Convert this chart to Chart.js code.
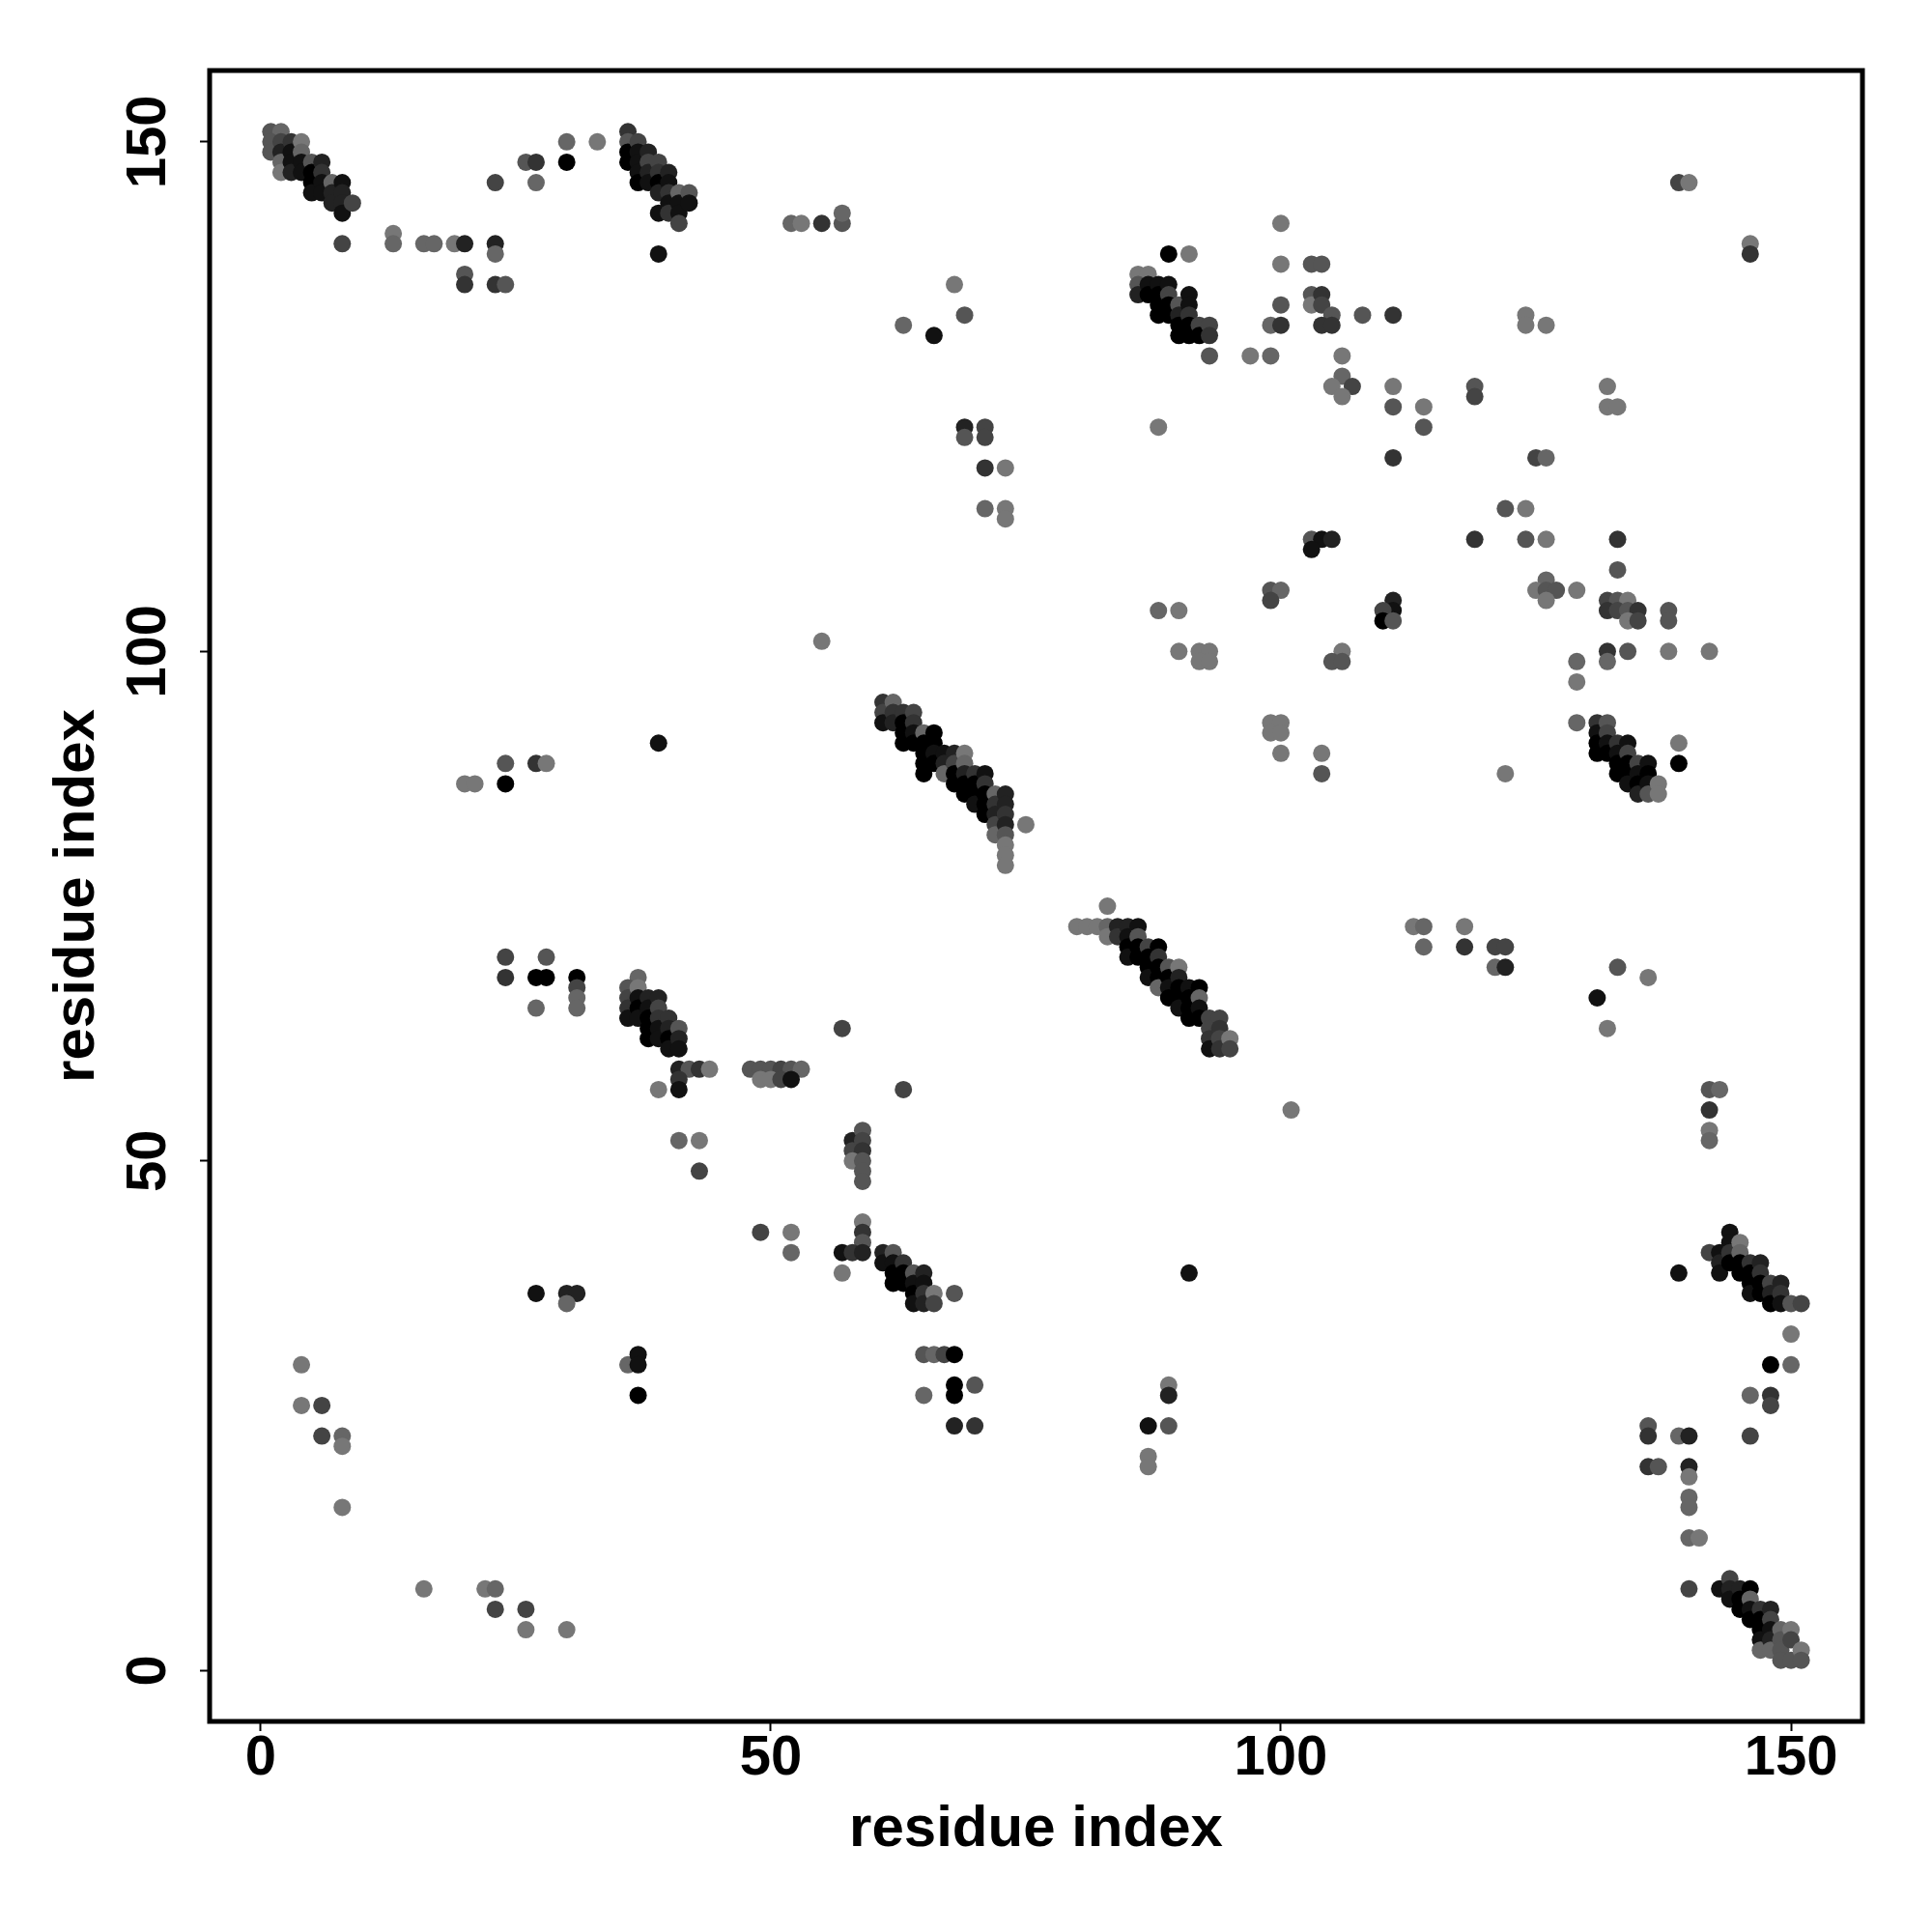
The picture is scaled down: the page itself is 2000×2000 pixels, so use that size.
<!DOCTYPE html>
<html>
<head>
<meta charset="utf-8">
<script src="https://cdn.jsdelivr.net/npm/chart.js@4/dist/chart.umd.min.js"></script>
<style>
  html, body { margin: 0; padding: 0; background: #fff; }
  #wrap { width: 2000px; height: 2000px; }
</style>
</head>
<body>
<div id="wrap"><canvas id="contactMap"></canvas></div>
<script>
// contacts as [residue i, residue j, tone]; tone 0 = black ... 7 = mid grey
const topLeft = [[1,151,5],[2,151,6],[1,150,5],[1,149,5],[2,150,4],[2,149,2],[2,148,6],[2,147,7],[3,150,3],[3,149,1],[3,148,1],[3,147,2],[4,150,7],[4,149,6],[4,148,1],[4,147,1],[5,148,5],[5,147,0],[5,146,0],[5,145,1],[6,148,2],[6,147,3],[6,146,1],[6,145,1],[7,146,6],[7,145,2],[7,144,2],[8,146,1],[8,145,2],[8,144,2],[8,143,1],[9,144,4]];
const topScatter = [[8,140,4],[13,141,7],[13,140,6],[16,140,6],[17,140,6],[19,140,7],[20,140,2],[23,140,2],[23,139,6],[20,137,5],[20,136,3],[23,136,3],[24,136,5],[23,146,4],[26,148,5],[27,148,3],[27,146,6],[30,150,6],[30,148,0],[33,150,7]];
const topStrand = [[36,151,3],[36,150,5],[36,149,0],[36,148,0],[37,150,4],[37,149,1],[37,148,1],[37,147,1],[37,146,0],[38,149,2],[38,148,4],[38,147,2],[38,146,1],[39,148,4],[39,147,3],[39,146,0],[39,145,2],[39,143,1],[40,147,2],[40,146,1],[40,145,3],[40,144,1],[40,143,3],[41,145,6],[41,144,1],[41,143,1],[41,142,4],[42,145,5],[42,144,1],[39,139,1]];
const topMid = [[52,142,6],[53,142,7],[55,142,3],[57,142,5],[57,143,6],[68,136,7],[69,133,5],[63,132,6],[66,131,1],[69,122,2],[71,122,4],[69,121,5],[71,121,4],[71,118,3],[73,118,7],[88,122,7],[89,139,0],[91,139,7],[93,129,5],[97,129,7],[99,129,6],[100,142,7],[100,138,7],[100,134,5],[99,132,6],[100,132,3],[103,138,5],[104,138,5],[103,135,5],[103,134,7],[104,135,3],[104,134,4],[105,133,5],[104,132,3],[105,132,3]];
const helix86 = [[86,137,7],[87,137,7],[86,136,5],[86,135,2],[87,136,1],[87,135,0],[88,136,1],[88,135,0],[88,134,0],[88,133,0],[89,136,1],[89,135,4],[89,134,0],[89,133,0],[90,134,5],[90,133,2],[90,132,0],[90,131,0],[91,135,1],[91,134,1],[91,133,3],[91,132,0],[91,131,0],[92,132,4],[92,131,0],[93,132,4],[93,131,3]];
const topRight = [[108,133,5],[111,133,3],[106,129,7],[106,127,6],[105,126,7],[107,126,4],[106,125,7],[111,126,7],[111,124,5],[114,124,7],[114,122,5],[119,126,5],[119,125,4],[124,133,7],[124,132,7],[126,132,7],[111,119,3],[125,119,4],[126,119,6],[132,126,7],[132,124,7],[133,124,7],[139,146,4],[140,146,7],[146,140,7],[146,139,3]];
const midLeft = [[20,87,7],[21,87,7],[24,89,5],[24,87,0],[27,89,3],[28,89,7],[39,91,1]];
const midCentre = [[71,114,6],[73,114,7],[73,113,7],[55,101,7],[88,104,6],[90,104,7],[90,100,7],[92,100,7],[93,100,7],[92,99,7],[93,99,7],[99,106,5],[100,106,6],[99,105,4],[99,93,7],[100,93,7],[99,92,7],[100,92,7],[100,90,7],[103,111,5],[104,111,1],[105,111,2],[103,110,1],[104,90,7],[104,88,5],[83,75,7],[75,83,7]];
const helix61 = [[61,95,3],[61,94,4],[61,93,1],[62,95,6],[62,94,3],[62,93,2],[63,94,3],[63,93,0],[63,92,0],[63,91,0],[64,94,4],[64,93,3],[64,92,1],[64,91,0],[65,92,6],[65,91,0],[65,90,0],[65,89,0],[65,88,0],[66,92,0],[66,91,0],[66,90,1],[66,89,0],[67,90,1],[67,89,2],[67,88,6],[68,90,2],[68,89,4],[68,88,0],[68,87,0],[69,90,7],[69,89,6],[69,88,2],[69,87,0],[69,86,0],[70,88,3],[70,87,0],[70,86,0],[70,85,1],[71,88,1],[71,87,3],[71,86,0],[71,85,0],[71,84,0],[72,86,6],[72,85,3],[72,84,2],[72,83,4],[72,82,6],[73,86,2],[73,85,2],[73,84,3],[73,83,2],[73,82,5],[73,81,7],[73,80,7],[73,79,7]];
const midRight = [[122,114,5],[124,114,7],[119,111,3],[124,111,5],[126,111,7],[133,111,3],[133,108,5],[126,107,6],[125,106,7],[126,106,5],[127,106,5],[126,105,7],[129,106,7],[132,105,4],[133,105,5],[134,105,7],[132,104,3],[133,104,4],[134,104,5],[135,104,3],[134,103,7],[135,103,4],[138,104,5],[138,103,5],[111,105,2],[111,104,1],[110,104,4],[110,103,0],[111,103,5],[106,100,7],[105,99,5],[106,99,5],[132,100,3],[132,99,6],[134,100,5],[138,100,7],[142,100,7],[129,99,6],[129,97,7],[129,93,6],[139,91,7],[139,89,0],[122,88,7]];
const helix131 = [[131,93,3],[131,92,1],[131,91,0],[131,90,0],[132,93,5],[132,92,4],[132,91,1],[132,90,0],[133,91,3],[133,90,1],[133,89,0],[133,88,0],[134,91,1],[134,90,4],[134,89,0],[134,88,0],[134,87,1],[135,89,4],[135,88,1],[135,87,0],[135,86,2],[136,89,1],[136,88,0],[136,87,1],[136,86,5],[137,87,7],[137,86,7]];
const lowLeft = [[24,70,4],[24,68,3],[27,68,0],[28,68,0],[28,70,5],[27,65,6],[31,68,0],[31,67,4],[31,66,6],[31,65,6],[37,68,6],[36,67,5],[36,66,4],[36,65,3],[36,64,1],[37,67,7],[37,66,1],[37,65,0],[37,64,1],[38,66,2],[38,65,1],[38,64,0],[38,63,0],[38,62,0],[39,66,2],[39,65,4],[39,64,3],[39,63,1],[39,62,1],[40,64,3],[40,63,2],[40,62,0],[40,61,1],[41,63,5],[41,62,2],[41,61,1],[41,59,2],[42,59,5],[43,59,3],[44,59,7],[41,58,3],[41,57,1],[39,57,7],[48,59,5],[49,59,5],[50,59,5],[51,59,4],[52,59,5],[53,59,6],[49,58,7],[50,58,7],[51,58,4],[52,58,1],[41,52,6],[43,52,7],[43,49,4],[49,43,4],[27,37,1],[30,37,2],[31,37,2],[30,36,6]];
const helix80 = [[80,73,7],[81,73,7],[82,73,7],[83,73,6],[83,72,7],[84,73,2],[84,72,3],[85,73,2],[85,72,1],[85,71,0],[85,70,1],[86,73,1],[86,72,5],[86,71,0],[86,70,0],[87,71,4],[87,70,0],[87,69,0],[87,68,1],[88,71,0],[88,70,3],[88,69,0],[88,68,0],[88,67,6],[89,69,5],[89,68,0],[89,67,1],[89,66,0],[90,69,7],[90,68,2],[90,67,0],[90,66,0],[90,65,1],[91,67,1],[91,66,0],[91,65,0],[91,64,0],[92,67,0],[92,66,6],[92,65,1],[92,64,0],[93,64,4],[93,63,4],[93,62,3],[93,61,1],[94,64,4],[94,63,3],[94,62,4],[94,61,3],[95,62,7],[95,61,4]];
const lowMid = [[57,63,4],[63,57,4],[58,52,2],[59,53,5],[58,51,4],[59,52,4],[59,51,3],[58,50,7],[59,50,5],[59,49,5],[59,48,5],[52,43,7],[52,41,6],[57,39,7],[59,44,7],[59,43,3],[59,42,5],[57,41,1],[58,41,3],[59,41,2],[68,37,5],[91,39,1],[101,55,7]];
const strand61 = [[61,41,2],[61,40,1],[62,41,5],[62,40,1],[62,39,0],[62,38,0],[63,40,3],[63,39,0],[63,38,0],[64,39,5],[64,38,1],[64,37,0],[64,36,1],[65,39,2],[65,38,1],[65,37,3],[65,36,2],[66,37,7],[66,36,4]];
const lowRight = [[113,73,7],[114,73,6],[118,73,7],[114,71,6],[118,71,3],[121,71,4],[122,71,4],[121,69,6],[122,69,2],[133,69,5],[136,68,7],[131,66,1],[132,63,7],[142,57,5],[143,57,6],[142,55,3],[142,53,7],[142,52,6],[139,39,1]];
const strand142 = [[142,41,4],[143,41,1],[143,40,2],[143,39,1],[144,43,1],[144,42,1],[144,41,3],[144,40,0],[145,42,7],[145,41,6],[145,40,0],[145,39,0],[146,40,3],[146,39,0],[146,38,0],[146,37,1],[147,40,2],[147,39,3],[147,38,0],[147,37,0],[148,38,4],[148,37,2],[148,36,0],[149,38,2],[149,37,3],[149,36,1],[150,36,5],[151,36,4]];
const bottomLeft = [[4,30,7],[4,26,7],[6,26,4],[6,23,4],[8,23,6],[8,22,7],[8,16,7],[16,8,7],[22,8,7],[23,8,6],[23,6,4],[26,6,4],[26,4,7],[30,4,7],[36,30,6],[37,31,1],[37,30,1],[37,27,0]];
const bottomMid = [[65,31,5],[66,31,6],[67,31,4],[68,31,0],[68,28,0],[68,27,0],[70,28,5],[65,27,6],[68,24,2],[70,24,3],[89,28,7],[89,27,2],[87,24,1],[89,24,5],[87,21,7],[87,20,7]];
const bottomRight = [[150,33,7],[148,30,0],[150,30,6],[146,27,6],[148,27,3],[148,26,4],[146,23,4],[136,24,5],[136,23,3],[139,23,6],[140,23,2],[136,20,3],[137,20,5],[140,20,2],[140,19,7],[140,17,6],[140,16,6],[140,13,6],[141,13,7],[140,8,4]];
const strand143 = [[143,8,1],[144,9,4],[144,8,2],[144,7,1],[145,8,2],[145,7,0],[145,6,0],[146,8,0],[146,7,6],[146,6,1],[146,5,0],[147,6,3],[147,5,0],[147,4,0],[147,3,1],[147,2,6],[148,6,2],[148,5,4],[148,4,1],[148,3,2],[148,2,6],[149,4,6],[149,3,5],[149,2,5],[149,1,5],[150,4,7],[150,3,4],[150,1,5],[151,2,7],[151,1,5]];

const tickVals = [0, 50, 100, 150];
const tickLabels = ['0', '50', '100', '150'];
const axisTitle = 'residue index';

const contacts = [].concat(topLeft, topScatter, topStrand, topMid, helix86, topRight,
  midLeft, midCentre, helix61, midRight, helix131, lowLeft, helix80, lowMid,
  strand61, lowRight, strand142, bottomLeft, bottomMid, bottomRight, strand143);

function grey(t) {
  const v = t * 17;
  return 'rgb(' + v + ',' + v + ',' + v + ')';
}

const FONT = 'Liberation Sans';

// box round the plot and the upright y tick labels
const framePlugin = {
  id: 'frame',
  afterDraw(chart) {
    const ctx = chart.ctx;
    const a = chart.chartArea;
    ctx.save();
    ctx.strokeStyle = '#000';
    ctx.lineWidth = 5;
    ctx.strokeRect(a.left, a.top, a.right - a.left, a.bottom - a.top);

    const ys = chart.scales.y;
    ctx.fillStyle = '#000';
    ctx.font = 'bold 58px "' + FONT + '"';
    ctx.textAlign = 'center';
    ctx.textBaseline = 'alphabetic';
    tickVals.forEach(function (v, i) {
      ctx.save();
      ctx.translate(171, ys.getPixelForValue(v));
      ctx.rotate(-Math.PI / 2);
      ctx.fillText(tickLabels[i], 0, 0);
      ctx.restore();
    });
    ctx.restore();
  }
};

function fixTicks(scale) {
  scale.ticks = tickVals.map(function (v) { return { value: v }; });
}

new Chart(document.getElementById('contactMap'), {
  type: 'scatter',
  data: {
    datasets: [{
      data: contacts.map(function (c) { return { x: c[0], y: c[1] }; }),
      pointBackgroundColor: contacts.map(function (c) { return grey(c[2]); }),
      pointBorderWidth: 0,
      pointRadius: 9,
      pointHoverRadius: 9
    }]
  },
  options: {
    responsive: true,
    maintainAspectRatio: false,
    animation: false,
    layout: { padding: { top: 73, right: 72, left: 0, bottom: 0 } },
    plugins: { legend: { display: false }, tooltip: { enabled: false } },
    scales: {
      x: {
        type: 'linear', min: -5, max: 157,
        afterBuildTicks: fixTicks,
        afterFit: function (s) { s.height = 218; },
        grid: { drawOnChartArea: false, drawTicks: true, tickLength: 10, tickWidth: 2, tickColor: '#000' },
        border: { display: false },
        ticks: {
          color: '#000', padding: -6, maxRotation: 0,
          font: { family: FONT, weight: 'bold', size: 58 },
          callback: function (v, i) { return tickLabels[i]; }
        },
        title: {
          display: true, text: axisTitle, color: '#000',
          font: { family: FONT, weight: 'bold', size: 60 },
          padding: { top: 0, bottom: 70 }
        }
      },
      y: {
        type: 'linear', min: -5, max: 157,
        afterBuildTicks: fixTicks,
        afterFit: function (s) { s.width = 217; },
        grid: { drawOnChartArea: false, drawTicks: true, tickLength: 10, tickWidth: 2, tickColor: '#000' },
        border: { display: false },
        ticks: { display: false },
        title: {
          display: true, text: axisTitle, color: '#000',
          font: { family: FONT, weight: 'bold', size: 60 },
          padding: { top: 44, bottom: 0 }
        }
      }
    }
  },
  plugins: [framePlugin]
});
</script>
</body>
</html>
